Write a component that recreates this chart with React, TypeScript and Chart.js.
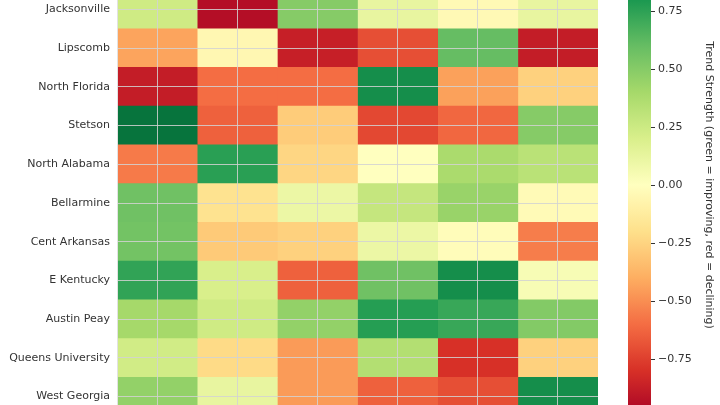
import React, { useEffect, useRef } from 'react';
import { Chart, registerables } from 'chart.js';
Chart.register(...registerables);

const teams = [
  'Jacksonville',
  'Lipscomb',
  'North Florida',
  'Stetson',
  'North Alabama',
  'Bellarmine',
  'Cent Arkansas',
  'E Kentucky',
  'Austin Peay',
  'Queens University',
  'West Georgia',
];
const periods = ['P1', 'P2', 'P3', 'P4', 'P5', 'P6'];

const period1 = [0.24, -0.43, -0.88, 0.95, -0.56, 0.57, 0.56, 0.74, 0.4, 0.23, 0.46];
const period2 = [-0.94, -0.05, -0.6, -0.64, 0.76, -0.18, -0.29, 0.2, 0.24, -0.22, 0.12];
const period3 = [0.5, -0.87, -0.6, -0.28, -0.24, 0.1, -0.26, -0.64, 0.46, -0.46, -0.46];
const period4 = [0.12, -0.7, 0.84, -0.72, 0.0, 0.28, 0.1, 0.57, 0.77, 0.35, -0.64];
const period5 = [-0.04, 0.6, -0.44, -0.62, 0.38, 0.44, -0.02, 0.84, 0.72, -0.8, -0.7];
const period6 = [0.12, -0.88, -0.26, 0.5, 0.32, -0.03, -0.55, 0.04, 0.51, -0.26, 0.84];
const periodValues = [period1, period2, period3, period4, period5, period6];

const colorbarTicks = [-0.75, -0.5, -0.25, 0, 0.25, 0.5, 0.75];
const colorMin = -1;
const colorMax = 1;
const colorbarTitle = 'Trend Strength (green = improving, red = declining)';

const RDYLGN = [
  [165, 0, 38],
  [215, 48, 39],
  [244, 109, 67],
  [253, 174, 97],
  [254, 224, 139],
  [255, 255, 191],
  [217, 239, 139],
  [166, 217, 106],
  [102, 189, 99],
  [26, 152, 80],
  [0, 104, 55],
];

function cmap(v: number): string {
  let t = (v - colorMin) / (colorMax - colorMin);
  t = Math.max(0, Math.min(1, t));
  const p = t * (RDYLGN.length - 1);
  const i = Math.min(RDYLGN.length - 2, Math.floor(p));
  const f = p - i;
  const a = RDYLGN[i];
  const b = RDYLGN[i + 1];
  const c = a.map((x, k) => Math.round(x + (b[k] - x) * f));
  return `rgb(${c[0]},${c[1]},${c[2]})`;
}

const FONT = 'DejaVu Sans';
const TEXT = '#333333';
const GRID = 'rgba(210,210,210,0.85)';

const zeroPad = (s: any) => {
  s.paddingTop = 0;
  s.paddingBottom = 0;
  s.paddingLeft = 0;
  s.paddingRight = 0;
};

export default function App() {
  const heatRef = useRef<HTMLCanvasElement>(null);
  const cbRef = useRef<HTMLCanvasElement>(null);

  useEffect(() => {
    document.body.style.background = '#ffffff';
    const heat = new Chart(heatRef.current!, {
      type: 'bar',
      data: {
        labels: teams,
        datasets: periods.map((p, ci) => ({
          label: p,
          data: teams.map(() => [ci, ci + 1]) as any,
          backgroundColor: periodValues[ci].map((v) => cmap(v)),
          borderWidth: 0,
          barPercentage: 1,
          categoryPercentage: 1,
          grouped: false,
        })),
      },
      options: {
        indexAxis: 'y',
        animation: false,
        responsive: false,
        maintainAspectRatio: false,
        layout: { padding: { left: 0, right: 122, top: 0, bottom: 0 } },
        plugins: { legend: { display: false }, tooltip: { enabled: false } },
        scales: {
          x: {
            type: 'linear',
            min: 0,
            max: periods.length,
            afterBuildTicks: (s: any) => {
              s.ticks = periods.map((_, i) => ({ value: i + 0.5 }));
            },
            afterFit: (s: any) => {
              s.height = 0;
              zeroPad(s);
            },
            ticks: { display: false },
            border: { display: false },
            grid: { z: 1, drawTicks: false, color: GRID, lineWidth: 1 },
          },
          y: {
            type: 'category',
            afterFit: (s: any) => {
              s.width = 117;
              zeroPad(s);
            },
            border: { display: true, color: '#e2e2e2', width: 1, z: 2 },
            grid: { z: 1, offset: false, drawTicks: false, color: GRID, lineWidth: 1 },
            ticks: { padding: 7, color: TEXT, font: { family: FONT, size: 11 } },
          },
        },
      },
    });

    const cb = new Chart(cbRef.current!, {
      type: 'bar',
      data: {
        labels: ['colorbar'],
        datasets: [
          {
            data: [[colorMin, colorMax]] as any,
            backgroundColor: (ctx: any) => {
              const chart = ctx.chart;
              const ys = chart.scales?.y;
              if (!ys) return cmap(0);
              const y0 = ys.getPixelForValue(colorMin);
              const y1 = ys.getPixelForValue(colorMax);
              if (!isFinite(y0) || !isFinite(y1)) return cmap(0);
              const g = chart.ctx.createLinearGradient(0, y0, 0, y1);
              const n = 40;
              for (let i = 0; i <= n; i++) {
                const v = colorMin + ((colorMax - colorMin) * i) / n;
                g.addColorStop(i / n, cmap(v));
              }
              return g;
            },
            borderWidth: 0,
            barPercentage: 1,
            categoryPercentage: 1,
          },
        ],
      },
      options: {
        animation: false,
        responsive: false,
        maintainAspectRatio: false,
        layout: { padding: { left: 28, right: 0, top: 12, bottom: 14 } },
        plugins: { legend: { display: false }, tooltip: { enabled: false } },
        scales: {
          x: { display: false },
          y: {
            type: 'linear',
            position: 'right',
            min: colorMin,
            max: colorMax,
            afterBuildTicks: (s: any) => {
              s.ticks = colorbarTicks.map((v) => ({ value: v }));
            },
            afterFit: (s: any) => {
              s.width = 69;
            },
            border: { display: false },
            grid: { drawOnChartArea: false, drawTicks: true, tickLength: 4, color: TEXT, lineWidth: 1 },
            ticks: {
              padding: 3,
              color: TEXT,
              font: { family: FONT, size: 11 },
              callback: (v: any) => {
                const n = Number(v);
                const s = Math.abs(n).toFixed(2);
                return n < 0 ? '\u2212' + s : s;
              },
            },
            title: {
              display: true,
              text: colorbarTitle,
              color: TEXT,
              font: { family: FONT, size: 11 },
              padding: { top: 5, bottom: 0 },
            },
          },
        },
      },
    });

    return () => {
      heat.destroy();
      cb.destroy();
    };
  }, []);

  return (
    <div>
      <div style={{ position: 'fixed', left: 0, top: -10, width: 720, height: 426 }}>
        <canvas ref={heatRef} width={720} height={426} style={{ width: 720, height: 426 }} />
      </div>
      <div style={{ position: 'fixed', left: 600, top: -59, width: 120, height: 490 }}>
        <canvas ref={cbRef} width={120} height={490} style={{ width: 120, height: 490 }} />
      </div>
    </div>
  );
}
